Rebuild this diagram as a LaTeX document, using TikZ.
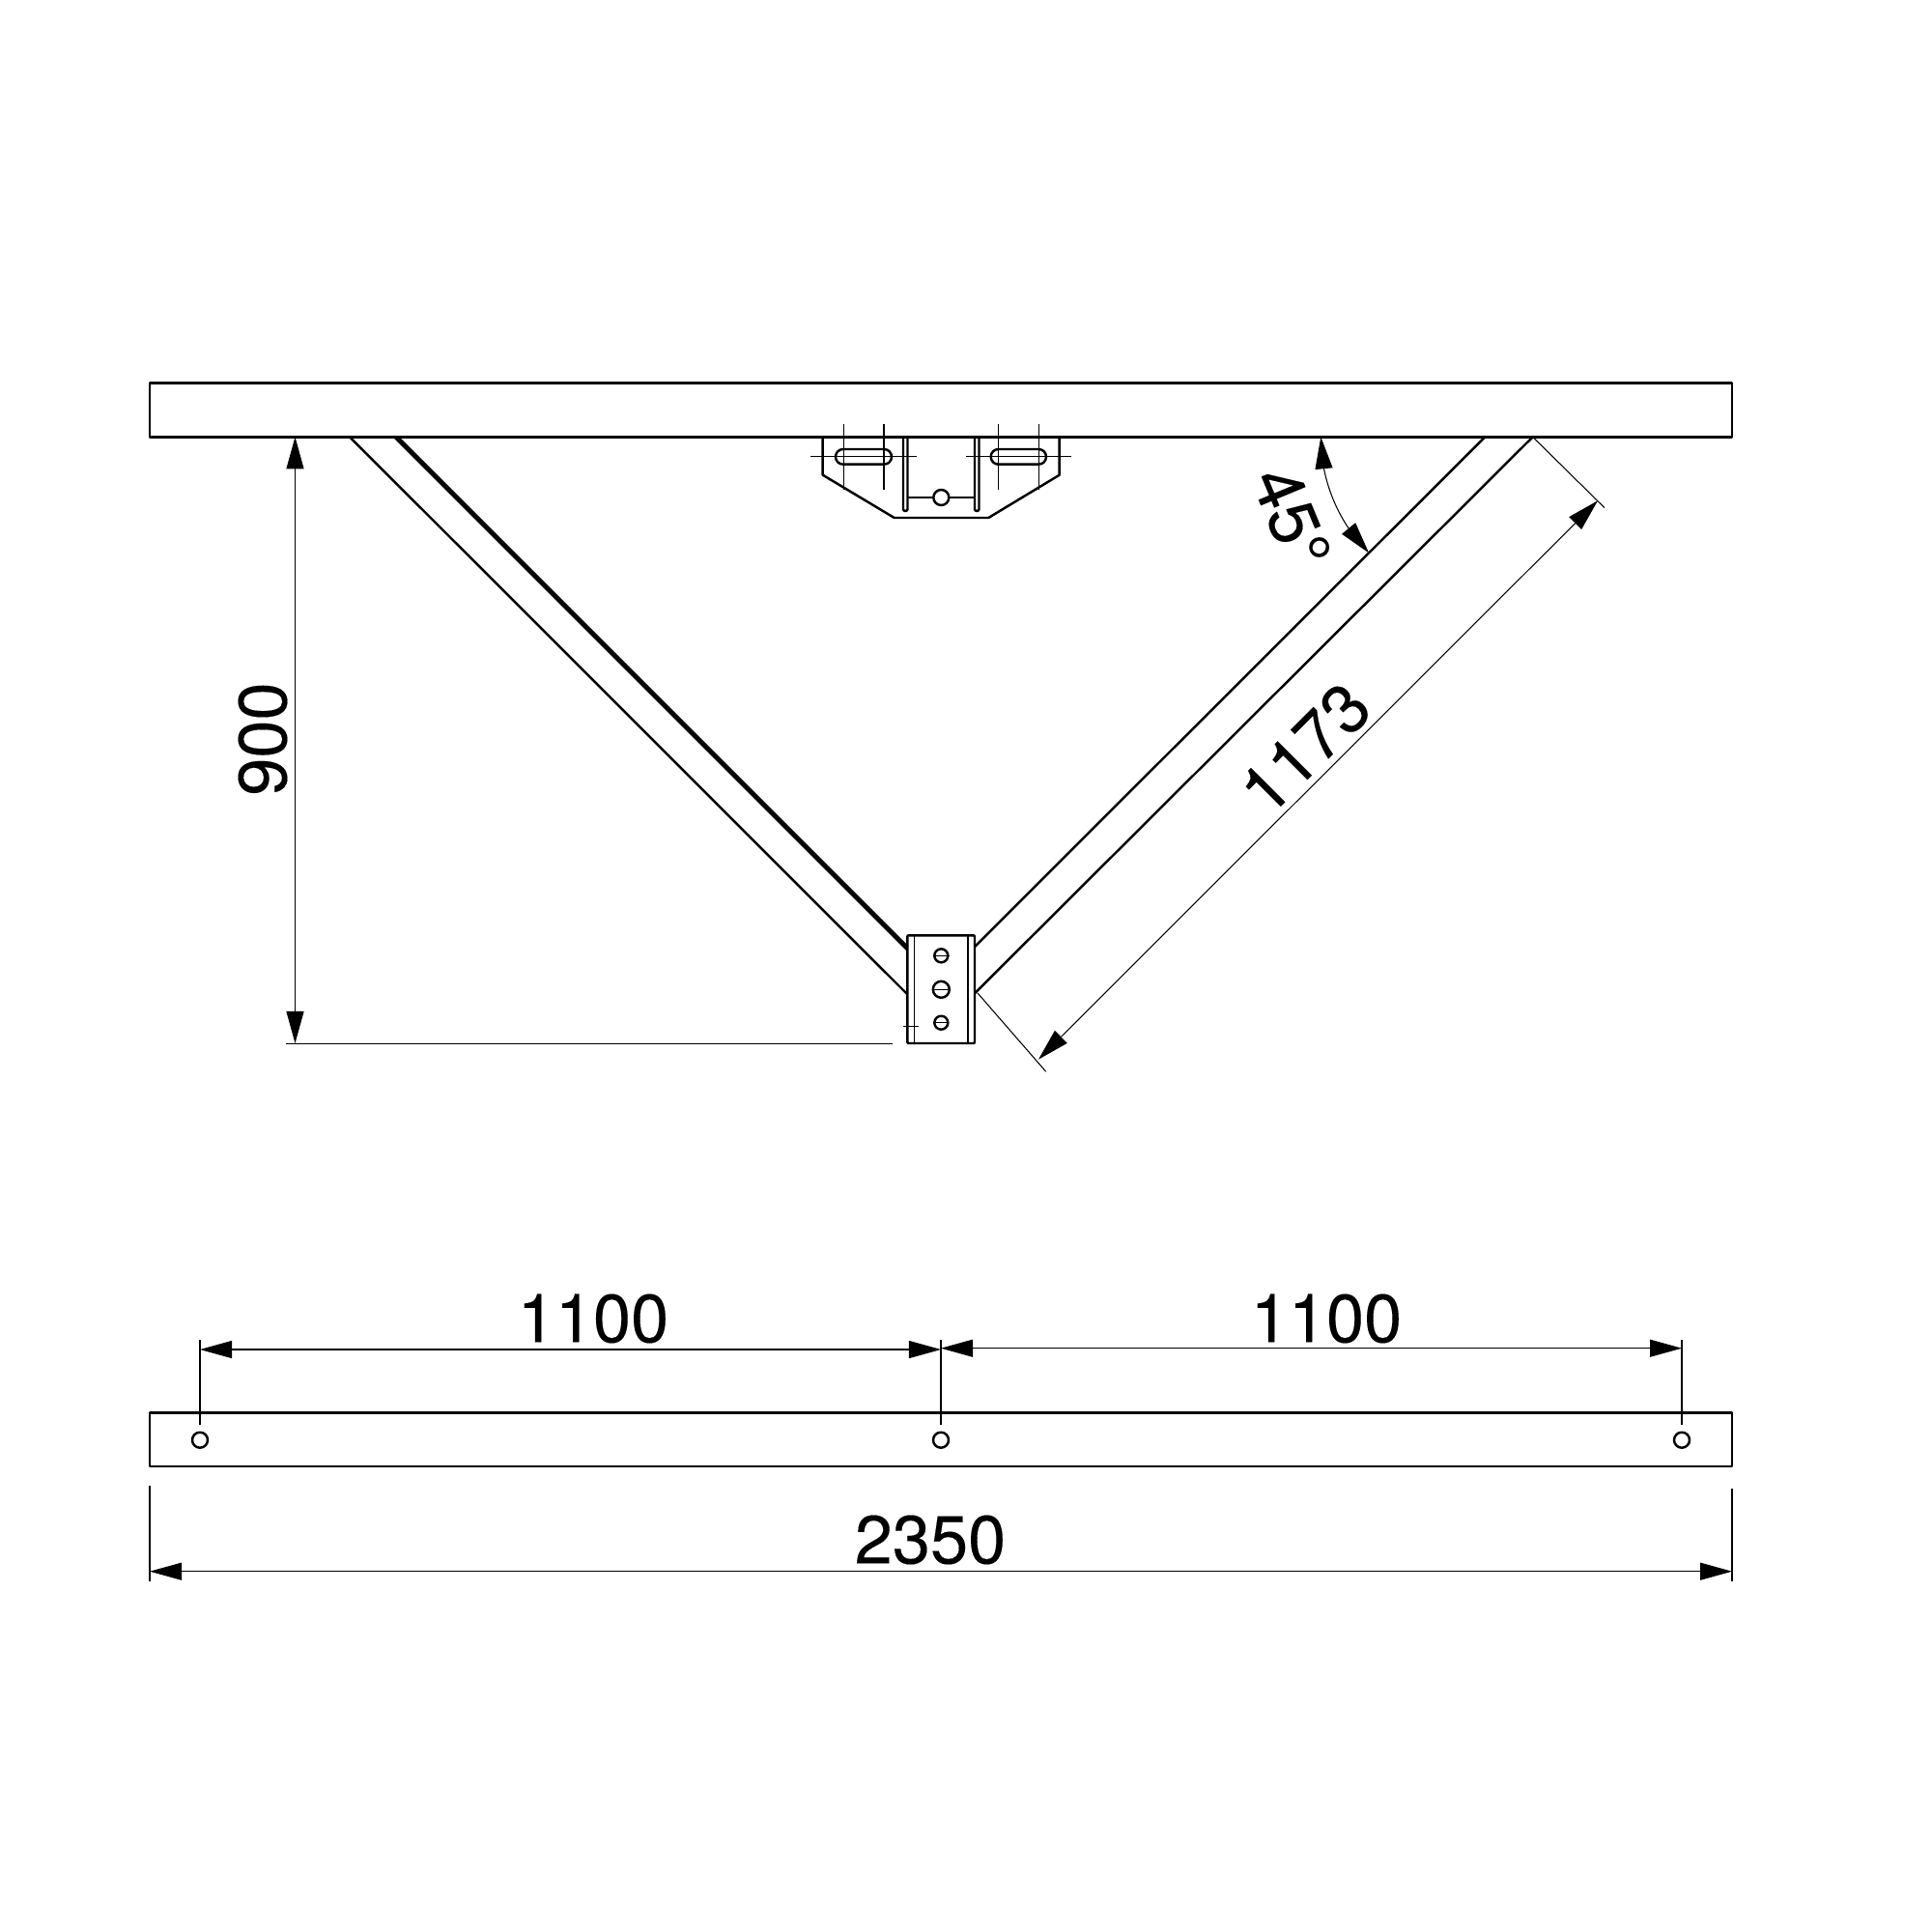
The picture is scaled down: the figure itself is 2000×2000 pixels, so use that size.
\documentclass[tikz,border=0pt]{standalone}
\usepackage{fontspec}
\setmainfont[Kerning=Off,FakeBold=0.2]{TeX Gyre Heros}
\usetikzlibrary{arrows.meta,bending}
\tikzset{
  bold/.style={line width=0.7pt,line join=round},
  thin line/.style={line width=0.3pt},
  dimline/.style={line width=0.3pt,{Triangle[length=3.3mm,width=1.8mm]}-{Triangle[length=3.3mm,width=1.8mm]}},
  dimtext/.style={inner sep=0pt,font=\fontsize{20}{24}\selectfont},
}
\begin{document}
\begin{tikzpicture}[x=0.01cm,y=-0.01cm]
\useasboundingbox (0,0) rectangle (2000,2000);
% top view
\draw[bold] (155,396.5) rectangle (1793,452.3);
\draw[bold] (362,452.3)--(939.3,1029.3);
\draw[bold] (408.2,452.3)--(939.3,983.4);
\draw[bold] (411.6,452.3)--(939.3,980);
\draw[bold] (1586.7,452.3)--(1009,1028.3);
\draw[bold] (1537.3,452.3)--(1009,980);
% bracket
\draw[bold] (851.7,452.3)--(851.7,491.7)--(925.7,536)--(1023.3,536)--(1096.7,491.7)--(1096.7,452.3);
\foreach \sx/\sw in {865/58,1025.7/57.3}
  \draw[bold,rounded corners=0.078cm] (\sx,465) rectangle ++(\sw,15.7);
\foreach \rx in {935,1009}
  \draw[bold,rounded corners=0.02cm] (\rx,452.3)--(\rx,529)--(\rx+4.5,529)--(\rx+4.5,452.3);
\draw[thin line] (839.3,472.7)--(949,472.7);
\draw[thin line] (1000,472.7)--(1109.3,472.7);
\foreach \vx in {873.3,915,1033.7,1075.3}
  \draw[thin line] (\vx,439.3)--(\vx,506.7);
\draw[thin line] (939.3,515)--(966,515) (982.5,515)--(1009,515);
\draw[bold] (974.3,515) circle (8);
% block
\draw[bold,rounded corners=0.01cm] (939.3,968.3) rectangle (1009,1080);
\draw[thin line] (946.3,968.3)--(946.3,1080);
\draw[thin line] (1002,968.3)--(1002,1080);
\foreach \hy/\hr in {989.3/7,1024.3/8.5,1058.7/7}{
  \draw[bold] (974.3,\hy) circle (\hr);
  \draw[thin line] (974.3-\hr,\hy)--(974.3+\hr,\hy);
}
\draw[thin line] (966,989.3)--(983.3,989.3);
\draw[thin line] (935,1062.3)--(950.7,1062.3);
% dims top
\draw[thin line] (296,1080.5)--(924,1080.5);
\draw[dimline] (305.5,452.3)--(305.5,1080);
\node[dimtext,rotate=90] (lblheight) at (272,765) {900};
\draw[thin line] (1586.7,452.3)--(1661,525.7);
\draw[thin line] (1012,1028)--(1082.7,1109.3);
\draw[dimline] (1075,1096.7)--(1654,518.3);
\node[dimtext,rotate=45] (lbllength) at (1351,775) {1173};
\draw[dimline] (1367.3,452.3) arc (180:135:170);
\node[dimtext,rotate=-67.5] (lblangle) at (1337,536) {45°};
% bottom view
\draw[bold] (155,1462.7) rectangle (1793,1518);
\foreach \hx in {207,974,1741}{
  \draw[bold] (\hx,1490.7) circle (8);
  \draw[thin line] (\hx,1387)--(\hx,1475);
}
\draw[dimline] (207,1397)--(974,1397);
\draw[dimline] (974,1395.7)--(1741,1395.7);
\node[dimtext] (lblleft) at (614,1365) {1100};
\node[dimtext] (lblright) at (1373,1365) {1100};
\draw[thin line] (155,1538)--(155,1637);
\draw[thin line] (1793,1541)--(1793,1637);
\draw[dimline] (155,1626.7)--(1793,1626.7);
\node[dimtext] (lbltotal) at (963,1594) {2350};
\end{tikzpicture}
\end{document}
